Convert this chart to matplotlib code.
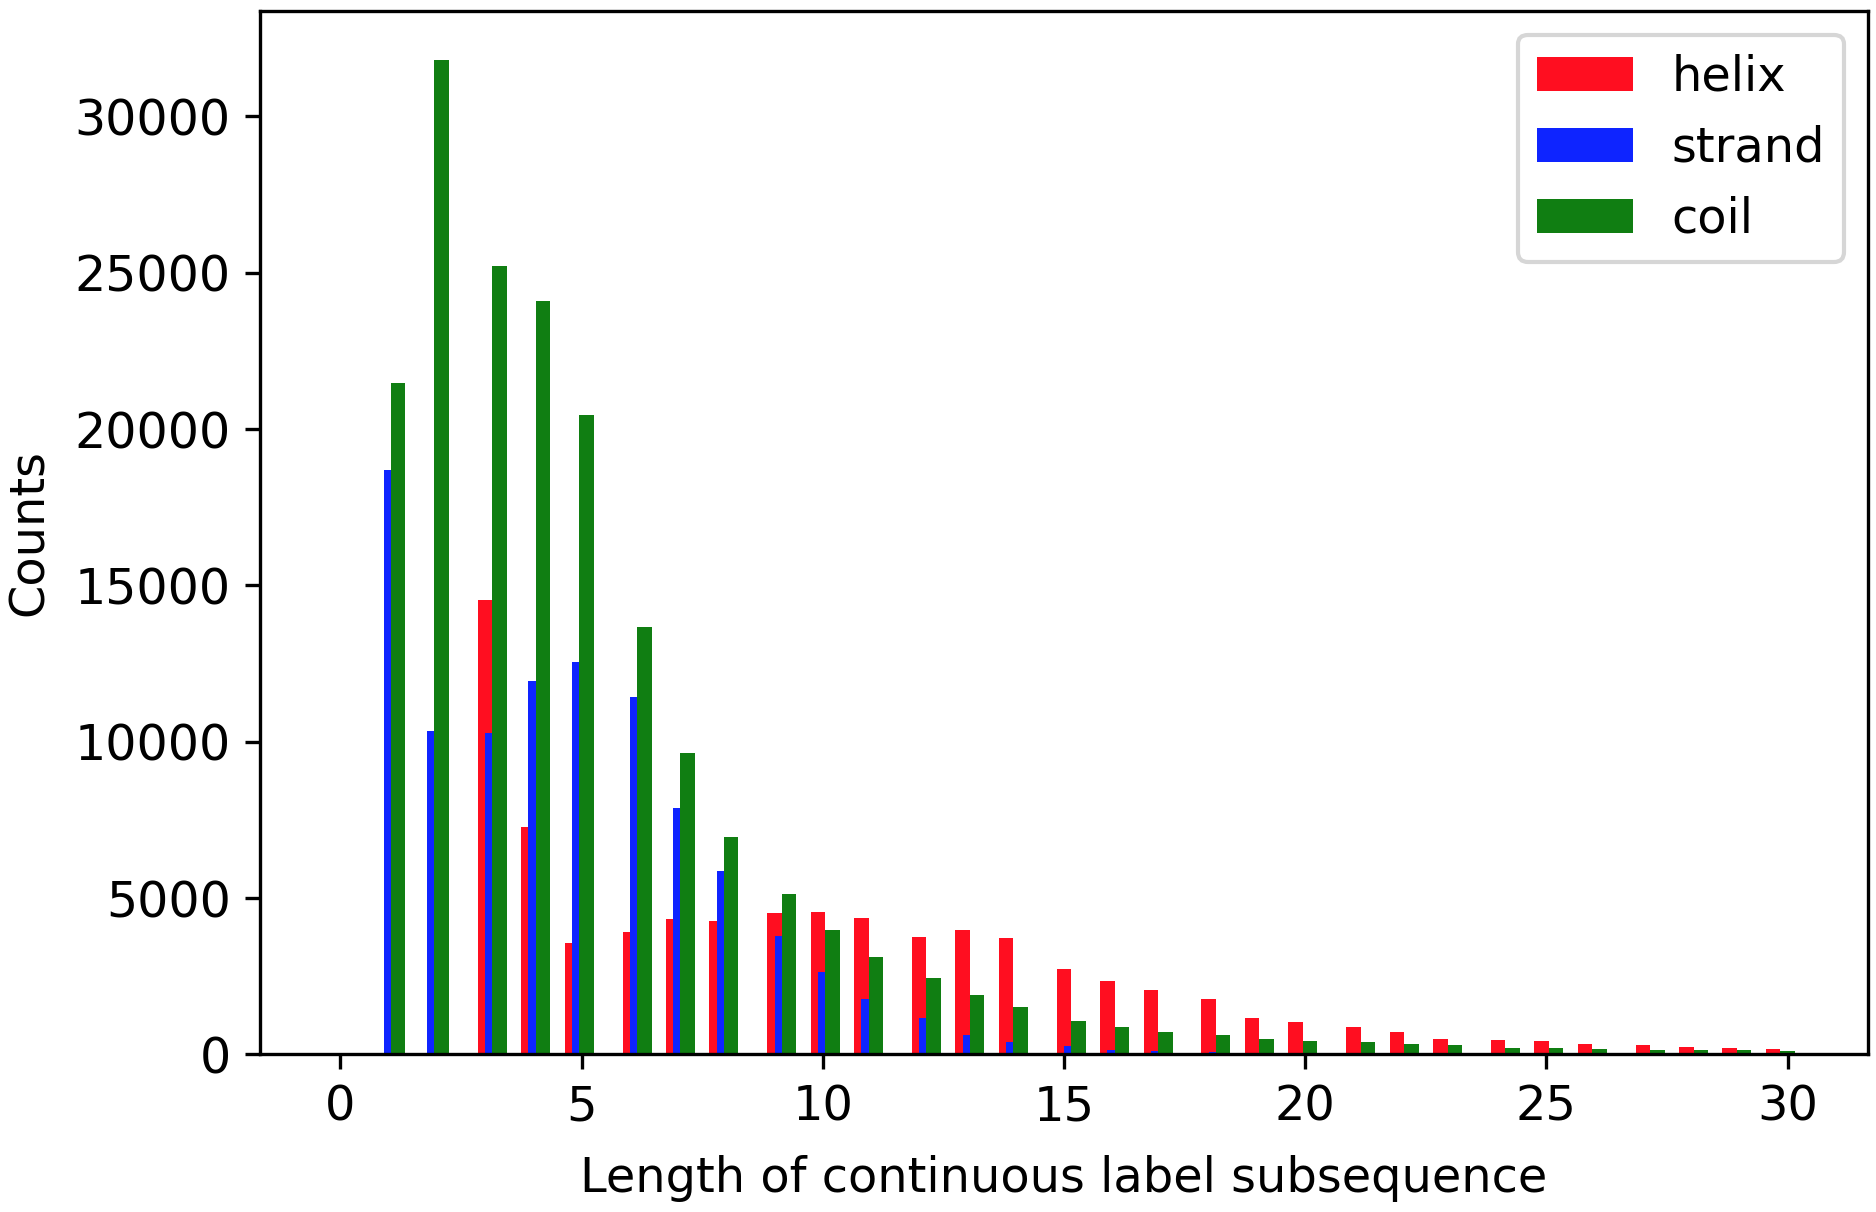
import numpy as np
from matplotlib import pyplot as plt

# length of continuous label subsequence and counts per class
lengths = np.arange(1, 31)
helix = [0, 0, 14520, 7270, 3560, 3900, 4320, 4280, 4510, 4560,
         4355, 3752, 3986, 3720, 2719, 2335, 2047, 1779, 1152, 1024,
         873, 704, 490, 448, 435, 320, 288, 234, 202, 170]
strand = [18680, 10340, 10280, 11940, 12560, 11440, 7880, 5864, 3794, 2633,
          1759, 1161, 608, 394, 266, 148, 96, 60, 20, 10,
          5, 0, 0, 0, 0, 0, 0, 0, 0, 0]
coil = [21466, 31798, 25208, 24108, 20461, 13660, 9649, 6942, 5118, 3986,
        3103, 2431, 1887, 1513, 1056, 873, 723, 617, 490, 416,
        394, 330, 288, 202, 202, 180, 138, 128, 148, 106]

names = ['helix', 'strand', 'coil']
colors = ['#ff0e20', '#0e24ff', '#107e12']

plt.rcParams['font.size'] = 11.5
fig = plt.figure(figsize=(1876 / 300, 1212 / 300), dpi=300)
ax = fig.add_axes([0.1386, 0.1301, 0.9957 - 0.1386, 0.9913 - 0.1301])

#把每个长度放进100个bin里
edges = np.linspace(0, 30, 101)
w = edges[1] - edges[0]
centers = (edges[:-1] + edges[1:]) / 2

for i, (vals, name, c) in enumerate(zip([helix, strand, coil], names, colors)):
    counts, _ = np.histogram(lengths, bins=edges, weights=vals)
    ax.bar(centers + (i - 1) * w / 2, counts, width=w, color=c, label=name)

ax.tick_params(axis='y', labelsize=11.8)
ax.set_xlabel('Length of continuous label subsequence', labelpad=5.8)
ax.set_ylabel('Counts', labelpad=5.2)
ax.legend(loc='upper right')
fig.savefig('out.png', dpi=300)
